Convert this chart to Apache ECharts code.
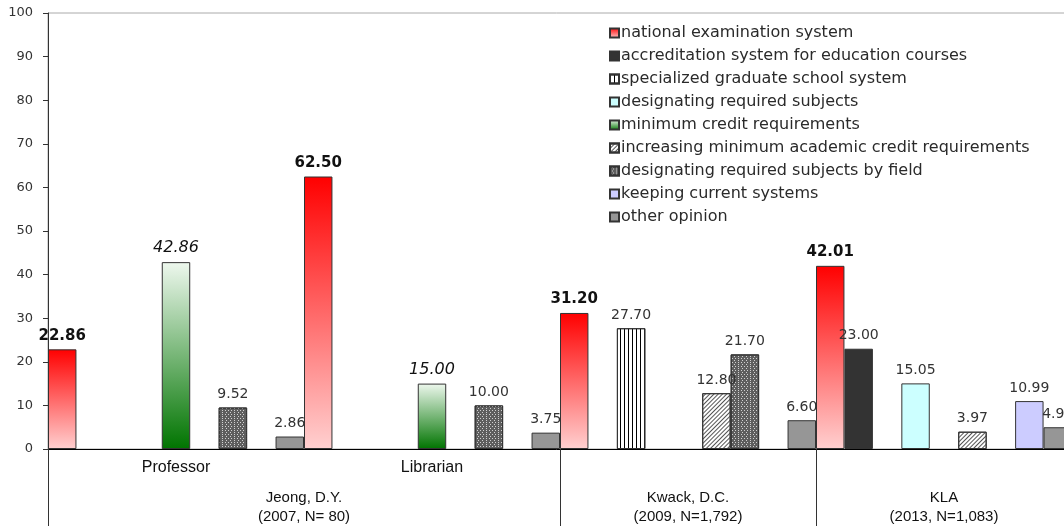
<!DOCTYPE html>
<html><head><meta charset="utf-8">
<script src="https://cdn.jsdelivr.net/npm/echarts@6/dist/echarts.min.js"></script>
<style>html,body{margin:0;padding:0;background:#fff}#c{width:1064px;height:526px}</style>
</head><body><div id="c"></div>
<script>
const categories = ['Professor', 'Librarian', 'Kwack', 'KLA'];
const categoryLabels = ['Professor', 'Librarian', '', ''];
const studyLabels = ['Jeong, D.Y.\n(2007, N= 80)', 'Kwack, D.C.\n(2009, N=1,792)', 'KLA\n(2013, N=1,083)'];
const studyLabelPos = [1, 2.5, 3.5];
const studyBoundaries = [0, 2, 3];
const yTicks = [0, 10, 20, 30, 40, 50, 60, 70, 80, 90, 100];

const seriesNames = [
  'national examination system',
  'accreditation system for education courses',
  'specialized graduate school system',
  'designating required subjects',
  'minimum credit requirements',
  'increasing minimum academic credit requirements',
  'designating required subjects by field',
  'keeping current systems',
  'other opinion'
];
const nationalExam      = [22.86, 62.50, 31.20, 42.01];
const accreditation     = [null, null, null, 23.00];
const specializedGrad   = [null, null, 27.70, null];
const requiredSubjects  = [null, null, null, 15.05];
const minimumCredit     = [42.86, 15.00, null, null];
const increasingCredit  = [null, null, 12.80, 3.97];
const subjectsByField   = [9.52, 10.00, 21.70, null];
const keepingCurrent    = [null, null, null, 10.99];
const otherOpinion      = [2.86, 3.75, 6.60, 4.99];
const seriesValues = [nationalExam, accreditation, specializedGrad, requiredSubjects, minimumCredit,
  increasingCredit, subjectsByField, keepingCurrent, otherOpinion];

const grad = (top, bottom) => new echarts.graphic.LinearGradient(0, 0, 0, 1, [
  {offset: 0, color: top}, {offset: 1, color: bottom}]);

const styles = [
  {color: grad('#ff0000', '#ffd0d0')},
  {color: '#333333'},
  {color: '#ffffff', decal: {symbol: 'rect', symbolSize: 1, color: '#000', dashArrayX: [1, 3], dashArrayY: [4, 0], rotation: 0}},
  {color: '#ccffff'},
  {color: grad('#eef8ee', '#007400')},
  {color: '#ffffff', decal: {symbol: 'rect', symbolSize: 1, color: '#555', dashArrayX: [1, 2], dashArrayY: [4, 0], rotation: Math.PI / 4}},
  {color: '#5e5e5e', decal: {symbol: 'rect', symbolSize: 1, color: '#d0d0d0', dashArrayX: [[1, 2], [0, 1.5, 1, 0.5]], dashArrayY: [1, 1], rotation: 0}},
  {color: '#ccccff'},
  {color: '#969696'}
];
const labelStyles = [
  {fontFamily: 'DejaVu Sans', fontWeight: 'bold', fontSize: 15, color: '#111'},
  {fontFamily: 'DejaVu Sans', fontSize: 14, color: '#333'},
  {fontFamily: 'DejaVu Sans', fontSize: 14, color: '#333'},
  {fontFamily: 'DejaVu Sans', fontSize: 14, color: '#333'},
  {fontFamily: 'DejaVu Sans', fontStyle: 'italic', fontSize: 16, color: '#111'},
  {fontFamily: 'DejaVu Sans', fontSize: 14, color: '#333'},
  {fontFamily: 'DejaVu Sans', fontSize: 14, color: '#333'},
  {fontFamily: 'DejaVu Sans', fontSize: 14, color: '#333'},
  {fontFamily: 'DejaVu Sans', fontSize: 14, color: '#333'}
];

const chart = echarts.init(document.getElementById('c'), null, {renderer: 'canvas'});
chart.setOption({
  animation: false,
  backgroundColor: '#fff',
  grid: {left: 48, top: 13, width: 1024, height: 436, show: true, borderColor: '#aaa', borderWidth: 1,
    containLabel: false, outerBoundsMode: 'none'},
  legend: {
    orient: 'vertical', left: 604, top: 20, itemWidth: 9, itemHeight: 9, itemGap: 7,
    icon: 'rect',
    textStyle: {fontFamily: 'DejaVu Sans', fontSize: 16, color: '#2a2a2a', lineHeight: 15, padding: [0, 0, 0, -3]},
    data: seriesNames
  },
  xAxis: [
    {
      type: 'category', data: categories, position: 'bottom',
      axisLine: {lineStyle: {color: '#000'}},
      axisTick: {length: 26, lineStyle: {color: '#333'}},
      axisLabel: {margin: 11, fontFamily: 'Liberation Sans', fontSize: 16, color: '#111',
        formatter: (v, i) => categoryLabels[i]}
    },
    {
      type: 'value', min: 0, max: 4, position: 'bottom', offset: 0,
      axisLine: {show: false}, splitLine: {show: false},
      axisTick: {show: true, length: 77, customValues: studyBoundaries, lineStyle: {color: '#333'}},
      axisLabel: {customValues: studyLabelPos, margin: 39, fontFamily: 'Liberation Sans', fontSize: 15,
        lineHeight: 19, color: '#111',
        formatter: v => studyLabels[studyLabelPos.indexOf(v)] || ''}
    }
  ],
  yAxis: {
    type: 'value', min: 0, max: 100, interval: 10,
    axisLine: {show: true, lineStyle: {color: '#333'}},
    axisTick: {show: true, inside: false, length: 5, lineStyle: {color: '#333'}},
    splitLine: {show: false},
    axisLabel: {margin: 15, fontFamily: 'DejaVu Sans', fontSize: 13, color: '#333',
      formatter: v => yTicks.indexOf(v) >= 0 ? String(v) : ''}
  },
  series: seriesNames.map((name, i) => ({
    name, type: 'bar', xAxisIndex: 0,
    data: seriesValues[i],
    barGap: '0%', barCategoryGap: '0%',
    itemStyle: Object.assign({borderColor: '#333', borderWidth: 1}, styles[i]),
    label: Object.assign({show: true, position: 'top', distance: 6,
      formatter: p => p.value == null ? '' : p.value.toFixed(2)}, labelStyles[i])
  }))
});
</script></body></html>
